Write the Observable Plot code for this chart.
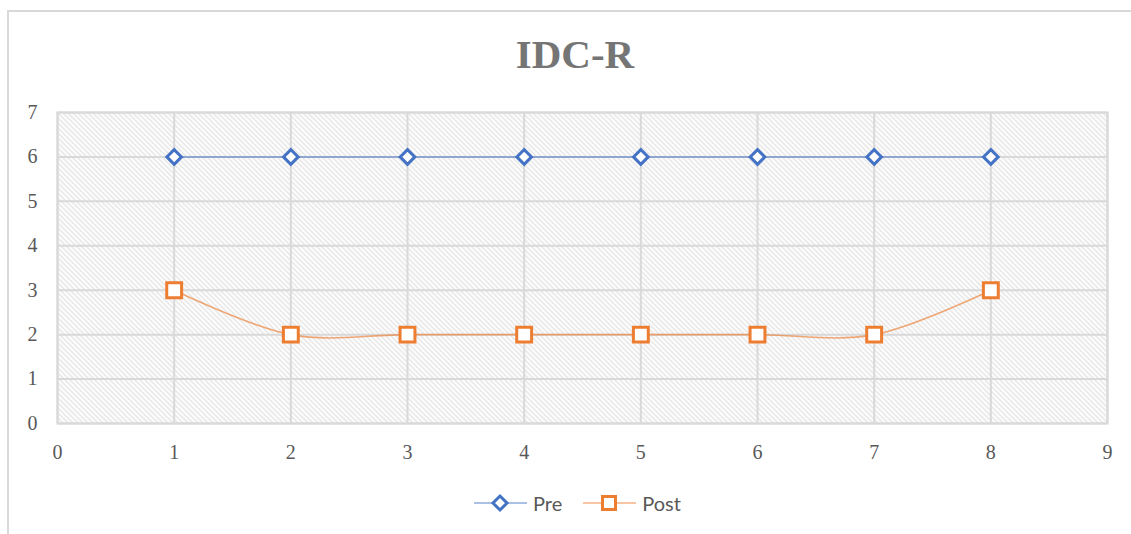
<!DOCTYPE html>
<html>
<head>
<meta charset="utf-8">
<script src="https://cdn.jsdelivr.net/npm/d3@7"></script>
<script src="https://cdn.jsdelivr.net/npm/@observablehq/plot@0.6"></script>
<style>
  html, body { margin: 0; padding: 0; background: #fff; width: 1131px; height: 534px; overflow: hidden; }
  #outer { position: absolute; left: 7px; top: 10px; width: 1300px; height: 600px; border-left: 2px solid #d9d9d9; border-top: 2px solid #d9d9d9; }
  #title { position: absolute; left: 0; top: 34px; width: 1150px; text-align: center; font-family: "Liberation Serif", serif; font-weight: bold; font-size: 41px; line-height: 1; color: #757575; }
  #chart { position: absolute; left: 0; top: 90px; }
  #legend { position: absolute; left: 474px; top: 491px; display: flex; align-items: center; font-family: Lato, sans-serif; font-size: 20px; color: #595959; height: 24px; }
  #legend .item { display: flex; align-items: center; margin-right: 4px; }
  #legend svg { display: block; margin-right: 6px; }
</style>
</head>
<body>
<div id="outer"></div>
<div id="title">IDC-R</div>
<div id="chart"></div>
<div id="legend"></div>
<script>
// ---- data ----
const seriesNames = ["Pre", "Post"];
const xValues = [1, 2, 3, 4, 5, 6, 7, 8];
const preValues = [6, 6, 6, 6, 6, 6, 6, 6];
const postValues = [3, 2, 2, 2, 2, 2, 2, 3];
const xTicks = [0, 1, 2, 3, 4, 5, 6, 7, 8, 9];
const yTicks = [0, 1, 2, 3, 4, 5, 6, 7];
const seriesColors = ["#4472C4", "#ED7D31"];

const rows = [
  ...xValues.map((x, i) => ({x, y: preValues[i], series: "Pre"})),
  ...xValues.map((x, i) => ({x, y: postValues[i], series: "Post"}))
];

const chart = Plot.plot({
  width: 1131,
  height: 390,
  marginTop: 22,
  marginBottom: 57,
  marginLeft: 57,
  marginRight: 24,
  style: {fontFamily: "'Liberation Serif', serif", fontSize: "20px", color: "#595959", background: "transparent", overflow: "visible"},
  x: {domain: [0, 9], label: null},
  y: {domain: [0, 7], label: null},
  color: {domain: seriesNames, range: seriesColors},
  marks: [
    Plot.frame({fill: "url(#hatch)", stroke: "none"}),
    Plot.gridX(xTicks, {stroke: "#d9d9d9", strokeOpacity: 1, strokeWidth: 2}),
    Plot.gridY(yTicks, {stroke: "#d9d9d9", strokeOpacity: 1, strokeWidth: 2}),
    Plot.frame({stroke: "#d9d9d9", strokeWidth: 2}),
    Plot.axisX(xTicks, {tickSize: 0, tickPadding: 21, tickFormat: d3.format("d"), fill: "#595959", fontSize: 20}),
    Plot.axisY(yTicks, {tickSize: 0, tickPadding: 20, tickFormat: d3.format("d"), fill: "#595959", fontSize: 20}),
    Plot.line(rows, {x: "x", y: "y", z: "series", stroke: "series", strokeWidth: 1.6, strokeOpacity: 0.65, curve: "cardinal"}),
    Plot.dot(rows.filter(d => d.series === "Pre"), {x: "x", y: "y", symbol: "diamond2", r: 6.6, stroke: "series", fill: "white", strokeWidth: 3}),
    Plot.dot(rows.filter(d => d.series === "Post"), {x: "x", y: "y", symbol: "square", r: 8.4, stroke: "series", fill: "white", strokeWidth: 3})
  ]
});

// hatch pattern definition
const ns = "http://www.w3.org/2000/svg";
const defs = document.createElementNS(ns, "defs");
defs.innerHTML = `<pattern id="hatch" patternUnits="userSpaceOnUse" width="5" height="5">
  <rect width="5" height="5" fill="#ffffff"/>
  <path d="M-1,-1 L6,6 M-1,4 L1,6 M4,-1 L6,1" stroke="#dadada" stroke-width="1.1"/>
</pattern>`;
chart.insertBefore(defs, chart.firstChild);
document.getElementById("chart").appendChild(chart);

// legend
const legend = document.getElementById("legend");
seriesNames.forEach((name, i) => {
  const item = document.createElement("div");
  item.className = "item";
  const c = seriesColors[i];
  const marker = i === 0
    ? `<path d="M26,3 L33,10 L26,17 L19,10 Z" fill="white" stroke="${c}" stroke-width="3"/>`
    : `<rect x="19.5" y="3.5" width="13" height="13" fill="white" stroke="${c}" stroke-width="3"/>`;
  item.innerHTML = `<svg width="53" height="20"><line x1="0" x2="53" y1="10" y2="10" stroke="${c}" stroke-opacity="0.6" stroke-width="1.6"/>${marker}</svg><span>${name}</span>`;
  if (i === 0) item.style.marginRight = "21px";
  legend.appendChild(item);
});
</script>
</body>
</html>
